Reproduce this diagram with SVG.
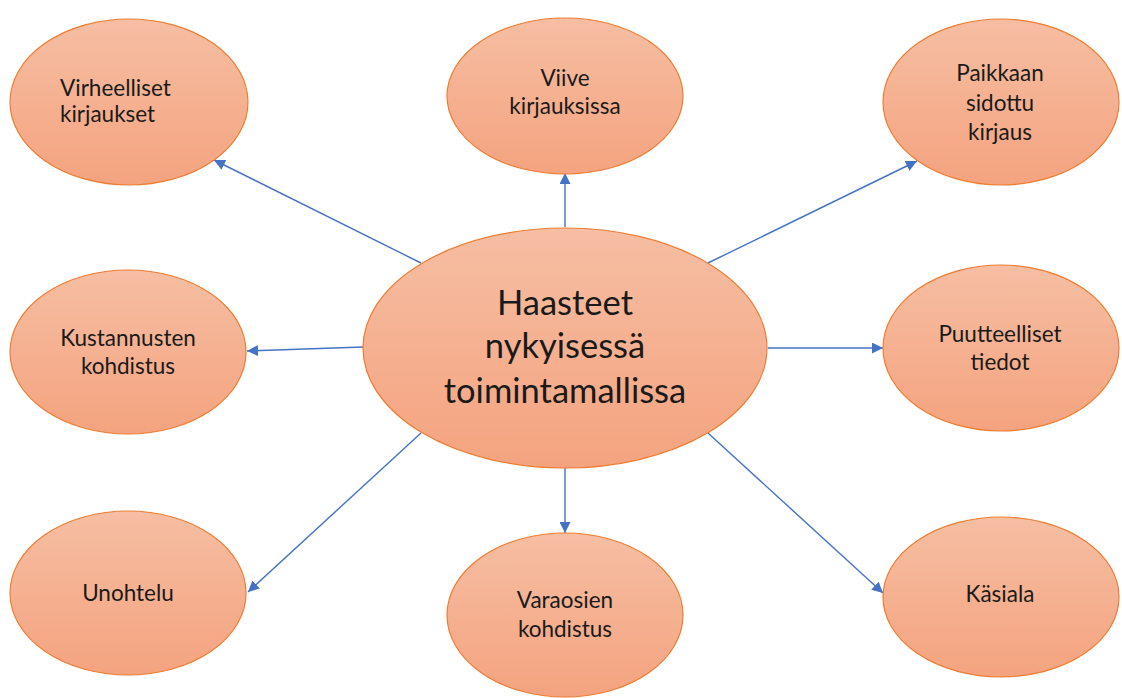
<svg xmlns="http://www.w3.org/2000/svg" width="1122" height="698" viewBox="0 0 1122 698">
  <defs>
    <linearGradient id="orangeFill" x1="0" y1="0" x2="0" y2="1">
      <stop offset="0" stop-color="#F6BEA3"/>
      <stop offset="1" stop-color="#F4A37F"/>
    </linearGradient>
    <marker id="arrowHead" viewBox="0 0 10 10" refX="10" refY="5" markerWidth="11" markerHeight="11" markerUnits="userSpaceOnUse" orient="auto">
      <path d="M0,0 L10,5 L0,10 Z" fill="#4472C4"/>
    </marker>
    <style>
      .bubble { fill: url(#orangeFill); stroke: #ED7D31; stroke-width: 1.2; }
      .label { font-family: Lato, "Liberation Sans", sans-serif; font-size: 22.5px; fill: #1a1a1a; text-anchor: middle; }
      .title { font-family: Lato, "Liberation Sans", sans-serif; font-size: 34.5px; fill: #1a1a1a; text-anchor: middle; }
      .link { stroke: #4472C4; stroke-width: 1.4; fill: none; marker-end: url(#arrowHead); }
    </style>
  </defs>
  <rect width="1122" height="698" fill="#ffffff"/>

  <!-- connectors from the central bubble to each challenge -->
  <g id="connectors">
    <line class="link" x1="421" y1="263" x2="214" y2="160"/>
    <line class="link" x1="565" y1="227" x2="565" y2="173"/>
    <line class="link" x1="708" y1="263" x2="917" y2="161"/>
    <line class="link" x1="363" y1="347" x2="247" y2="351"/>
    <line class="link" x1="768" y1="348" x2="883" y2="348"/>
    <line class="link" x1="421" y1="433" x2="248" y2="592"/>
    <line class="link" x1="565" y1="468" x2="565" y2="533"/>
    <line class="link" x1="708" y1="433" x2="883" y2="593"/>
  </g>

  <g id="center">
    <ellipse class="bubble" cx="565" cy="348" rx="202" ry="120"/>
    <text class="title" x="565" y="315">Haasteet</text>
    <text class="title" x="565" y="358">nykyisessä</text>
    <text class="title" x="565" y="403">toimintamallissa</text>
  </g>

  <g id="virheelliset">
    <ellipse class="bubble" cx="129" cy="102" rx="119" ry="83"/>
    <text class="label" x="60" y="96" style="text-anchor:start">Virheelliset</text>
    <text class="label" x="60" y="122" style="text-anchor:start">kirjaukset</text>
  </g>

  <g id="viive">
    <ellipse class="bubble" cx="565" cy="96" rx="118" ry="78"/>
    <text class="label" x="565" y="86">Viive</text>
    <text class="label" x="565" y="114">kirjauksissa</text>
  </g>

  <g id="paikkaan">
    <ellipse class="bubble" cx="1001" cy="102" rx="118" ry="83"/>
    <text class="label" x="1000" y="81">Paikkaan</text>
    <text class="label" x="1000" y="111">sidottu</text>
    <text class="label" x="1000" y="140">kirjaus</text>
  </g>

  <g id="kustannusten">
    <ellipse class="bubble" cx="128" cy="352" rx="118" ry="82"/>
    <text class="label" x="128" y="346">Kustannusten</text>
    <text class="label" x="128" y="374">kohdistus</text>
  </g>

  <g id="puutteelliset">
    <ellipse class="bubble" cx="1001" cy="348" rx="118" ry="83"/>
    <text class="label" x="1000" y="342">Puutteelliset</text>
    <text class="label" x="1000" y="370">tiedot</text>
  </g>

  <g id="unohtelu">
    <ellipse class="bubble" cx="128" cy="593" rx="118" ry="82"/>
    <text class="label" x="128" y="601">Unohtelu</text>
  </g>

  <g id="varaosien">
    <ellipse class="bubble" cx="565" cy="615" rx="118" ry="82"/>
    <text class="label" x="565" y="608">Varaosien</text>
    <text class="label" x="565" y="637">kohdistus</text>
  </g>

  <g id="kasiala">
    <ellipse class="bubble" cx="1001" cy="597" rx="118" ry="80"/>
    <text class="label" x="1000" y="602">Käsiala</text>
  </g>
</svg>
